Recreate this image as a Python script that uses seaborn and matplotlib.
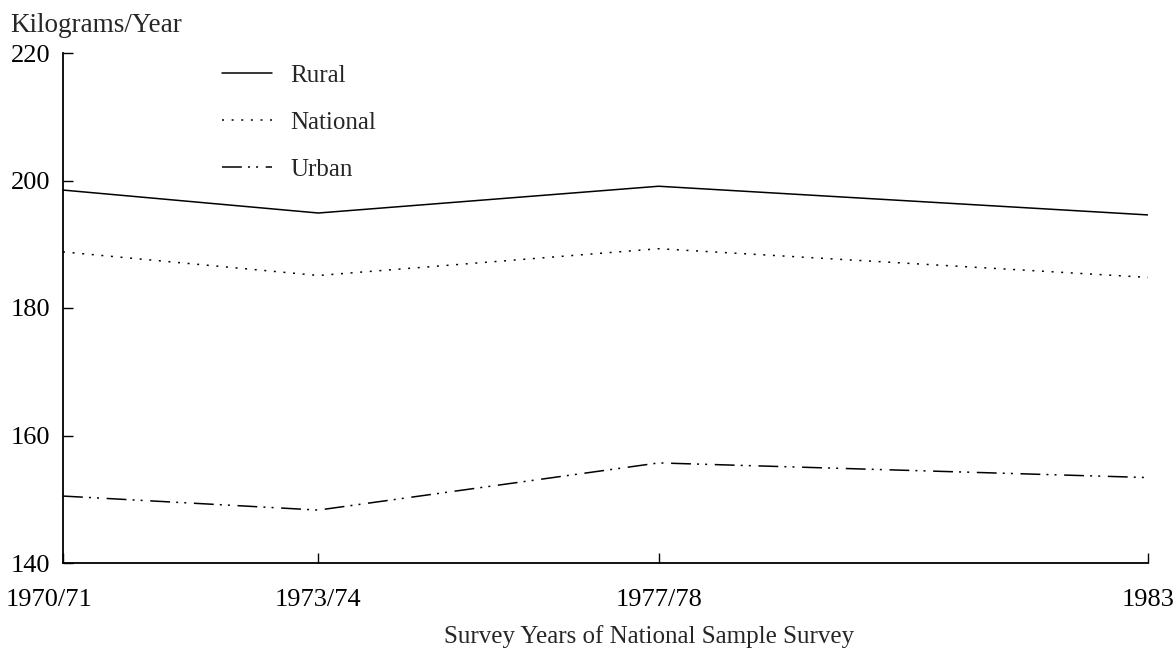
import matplotlib
matplotlib.use("Agg")
import matplotlib.pyplot as plt
import matplotlib.transforms as mtransforms
import seaborn as sns
import pandas as pd

# ---- data ----
survey_labels = ["1970/71", "1973/74", "1977/78", "1983"]
survey_pos = [1970.75, 1973.75, 1977.75, 1983.5]
rural = [198.5, 194.9, 199.1, 194.6]
national = [188.8, 185.1, 189.3, 184.8]
urban = [150.5, 148.3, 155.7, 153.4]
series_names = ["Rural", "National", "Urban"]
y_ticks = [140, 160, 180, 200, 220]

rows = []
for name, vals in zip(series_names, [rural, national, urban]):
    for p, v in zip(survey_pos, vals):
        rows.append({"year": p, "value": v, "series": name})
df = pd.DataFrame(rows)

sns.set_style("ticks")
plt.rcParams["font.family"] = ["Liberation Serif", "DejaVu Serif"]

fig = plt.figure(figsize=(11.75, 6.51), dpi=100)
ax = fig.add_axes([63 / 1175, 1 - 563 / 651, (1148 - 63) / 1175, (563 - 53) / 651])

lw = 1.1
dashes = {
    "Rural": "",
    "National": (1.3, 5.0),
    "Urban": (13.0, 4.0, 1.3, 4.0, 1.3, 5.0),
}
sns.lineplot(data=df, x="year", y="value", hue="series", style="series",
             palette={n: "black" for n in series_names}, dashes=dashes,
             linewidth=lw, ax=ax, legend=True)

ax.set_xlim(survey_pos[0], survey_pos[-1])
ax.set_ylim(y_ticks[0], y_ticks[-1])
ax.set_xticks(survey_pos)
ax.set_xticklabels(survey_labels)
ax.set_yticks(y_ticks)
ax.tick_params(axis="both", direction="in", labelsize=19, color="black",
               width=1.0, length=7, labelcolor="black")
ax.tick_params(axis="x", pad=18.5)
ax.tick_params(axis="y", pad=9)
for s in ["top", "right"]:
    ax.spines[s].set_visible(False)
for s in ["left", "bottom"]:
    ax.spines[s].set_color("black")
    ax.spines[s].set_linewidth(1.3)

# first x label sits a little left of its tick
first = ax.get_xticklabels()[0]
first.set_transform(first.get_transform() +
                    mtransforms.ScaledTranslation(-14 / 100, 0, fig.dpi_scale_trans))

ax.set_xlabel("Survey Years of National Sample Survey", fontsize=18, labelpad=10.5)
ax.xaxis.label.set_x((649 - 63) / 1085)
ax.set_ylabel("")
fig.text(10 / 1175, 1 - 26 / 651, "Kilograms/Year", fontsize=19.5, va="center", ha="left")

handles, labels = ax.get_legend_handles_labels()
leg = ax.legend(handles, labels, loc="upper left",
                bbox_to_anchor=((222 - 63) / 1085, 1 - 11 / 510),
                frameon=False, fontsize=18, handlelength=2.0,
                handletextpad=0.72, labelspacing=0.99, borderaxespad=0,
                borderpad=0)
for line in leg.get_lines():
    line.set_linewidth(lw)

fig.savefig("out.png", dpi=100, facecolor="white")
